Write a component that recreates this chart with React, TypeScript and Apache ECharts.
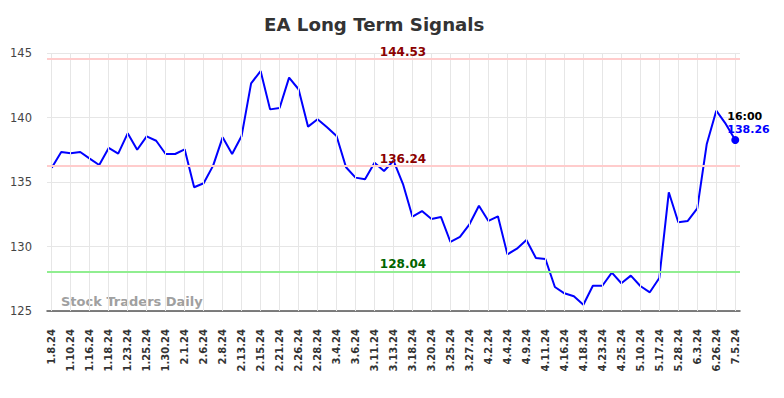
import React, { useEffect, useRef } from "react";
import * as echarts from "echarts";

const labelDates = [
  "1.8.24", "1.10.24", "1.16.24", "1.18.24", "1.23.24", "1.25.24", "1.30.24", "2.1.24",
  "2.6.24", "2.8.24", "2.13.24", "2.15.24", "2.21.24", "2.26.24", "2.28.24", "3.4.24",
  "3.6.24", "3.11.24", "3.13.24", "3.18.24", "3.20.24", "3.25.24", "3.27.24", "4.2.24",
  "4.4.24", "4.9.24", "4.11.24", "4.16.24", "4.18.24", "4.23.24", "4.25.24", "5.10.24",
  "5.17.24", "5.28.24", "6.3.24", "6.26.24", "7.5.24",
];

const midDates = [
  "1.9.24", "1.12.24", "1.17.24", "1.22.24", "1.24.24", "1.29.24", "1.31.24", "2.5.24",
  "2.7.24", "2.12.24", "2.14.24", "2.20.24", "2.23.24", "2.27.24", "3.1.24", "3.5.24",
  "3.8.24", "3.12.24", "3.15.24", "3.19.24", "3.22.24", "3.26.24", "4.1.24", "4.3.24",
  "4.8.24", "4.10.24", "4.15.24", "4.17.24", "4.22.24", "4.24.24", "5.3.24", "5.14.24",
  "5.22.24", "5.31.24", "6.13.24", "7.1.24",
];

const prices = [
  136.11, 137.33, 137.22, 137.33, 136.81, 136.32, 137.64, 137.2, 138.77, 137.5,
  138.54, 138.2, 137.17, 137.17, 137.53, 134.59, 134.9, 136.27, 138.46, 137.17,
  138.57, 142.65, 143.6, 140.63, 140.74, 143.09, 142.19, 139.29, 139.86, 139.24,
  138.57, 136.14, 135.34, 135.21, 136.5, 135.85, 136.65, 134.84, 132.31, 132.75,
  132.13, 132.29, 130.35, 130.74, 131.72, 133.16, 131.98, 132.34, 129.39, 129.83,
  130.5, 129.11, 129.03, 126.86, 126.37, 126.14, 125.49, 126.96, 126.96, 127.97,
  127.15, 127.74, 126.94, 126.45, 127.56, 134.2, 131.88, 131.98, 132.96, 137.95,
  140.53, 139.5, 138.26,
];

const upperResistance = 144.53;
const midLevel = 136.24;
const lowerSupport = 128.04;
const lastTime = "16:00";
const yTicks = { min: 125, max: 145, step: 5 };

const categories: string[] = [];
labelDates.forEach((d, i) => {
  categories.push(d);
  if (i < midDates.length) categories.push(midDates[i]);
});

export default function App() {
  const ref = useRef<HTMLDivElement>(null);
  useEffect(() => {
    if (!ref.current) return;
    document.body.style.margin = "0";
    const chart = echarts.init(ref.current, null, { renderer: "svg" });
    const font = "DejaVu Sans";
    const lastIdx = prices.length - 1;
    const labelIdx = Math.floor(categories.length / 2) + 1;
    const gridLineIdx = categories.map((_, i) => i).filter((i) => i % 2 === 0);
    const levelLabel = (v: number, color: string) => ({
      coord: [labelIdx, v],
      symbol: "circle",
      symbolSize: 0,
      label: {
        show: true,
        position: "inside",
        offset: [0, -7.5],
        formatter: v.toFixed(2),
        color,
        fontFamily: font,
        fontWeight: "bold",
        fontSize: 12,
      },
    });
    chart.setOption({
      animation: false,
      backgroundColor: "#ffffff",
      title: {
        text: "EA Long Term Signals",
        left: 264,
        top: 15,
        padding: 0,
        textStyle: { fontFamily: font, fontWeight: "bold", fontSize: 18.2, color: "#333333" },
      },
      grid: { left: 47, right: 44, top: 53, bottom: 87, containLabel: false },
      xAxis: {
        type: "category",
        data: categories,
        boundaryGap: true,
        axisLine: { show: true, lineStyle: { color: "#555555", width: 1.5 } },
        axisTick: { show: false },
        splitLine: { show: false },
        axisLabel: {
          interval: 1,
          rotate: 90,
          margin: 18,
          fontFamily: font,
          fontSize: 10,
          fontWeight: "bold",
          color: "#333333",
        },
      },
      yAxis: {
        type: "value",
        min: yTicks.min,
        max: yTicks.max,
        interval: yTicks.step,
        axisLine: { show: false },
        axisTick: { show: false },
        splitLine: { show: true, lineStyle: { color: "#e6e6e6", width: 1 } },
        axisLabel: { fontFamily: font, fontSize: 11.5, color: "#444444", margin: 15 },
      },
      graphic: [
        {
          type: "text",
          left: 61,
          top: 295,
          style: {
            text: "Stock Traders Daily",
            fontFamily: font,
            fontWeight: "bold",
            fontSize: 13,
            fill: "#a0a0a0",
          },
        },
      ],
      series: [
        {
          type: "line",
          data: [],
          silent: true,
          z: 1,
          markLine: {
            silent: true,
            symbol: ["none", "none"],
            label: { show: false },
            lineStyle: { color: "#e6e6e6", width: 1, type: "solid" },
            data: gridLineIdx.map((i) => ({ xAxis: i })),
          },
        },
        {
          type: "line",
          data: prices,
          z: 3,
          symbol: "none",
          lineStyle: { color: "#0000ff", width: 2 },
          markLine: {
            silent: true,
            symbol: ["none", "none"],
            label: { show: false },
            data: [
              { yAxis: upperResistance, lineStyle: { color: "#ffcccc", width: 2, type: "solid" } },
              { yAxis: midLevel, lineStyle: { color: "#ffcccc", width: 2, type: "solid" } },
              { yAxis: lowerSupport, lineStyle: { color: "#90ee90", width: 2, type: "solid" } },
            ],
          },
          markPoint: {
            silent: true,
            data: [
              levelLabel(upperResistance, "#8b0000"),
              levelLabel(midLevel, "#8b0000"),
              levelLabel(lowerSupport, "#006400"),
              {
                coord: [lastIdx, prices[lastIdx]],
                symbol: "circle",
                symbolSize: 8,
                itemStyle: { color: "#0000ff" },
                label: {
                  show: true,
                  position: [-4, -26],
                  align: "left",
                  verticalAlign: "top",
                  formatter: `{t|${lastTime}}\n{v|${prices[lastIdx].toFixed(2)}}`,
                  rich: {
                    t: { color: "#000000", fontFamily: font, fontWeight: "bold", fontSize: 11, lineHeight: 13 },
                    v: { color: "#0000ff", fontFamily: font, fontWeight: "bold", fontSize: 11, lineHeight: 13 },
                  },
                },
              },
            ],
          },
        },
      ],
    });
    return () => chart.dispose();
  }, []);
  return <div ref={ref} style={{ width: 784, height: 398 }} />;
}
